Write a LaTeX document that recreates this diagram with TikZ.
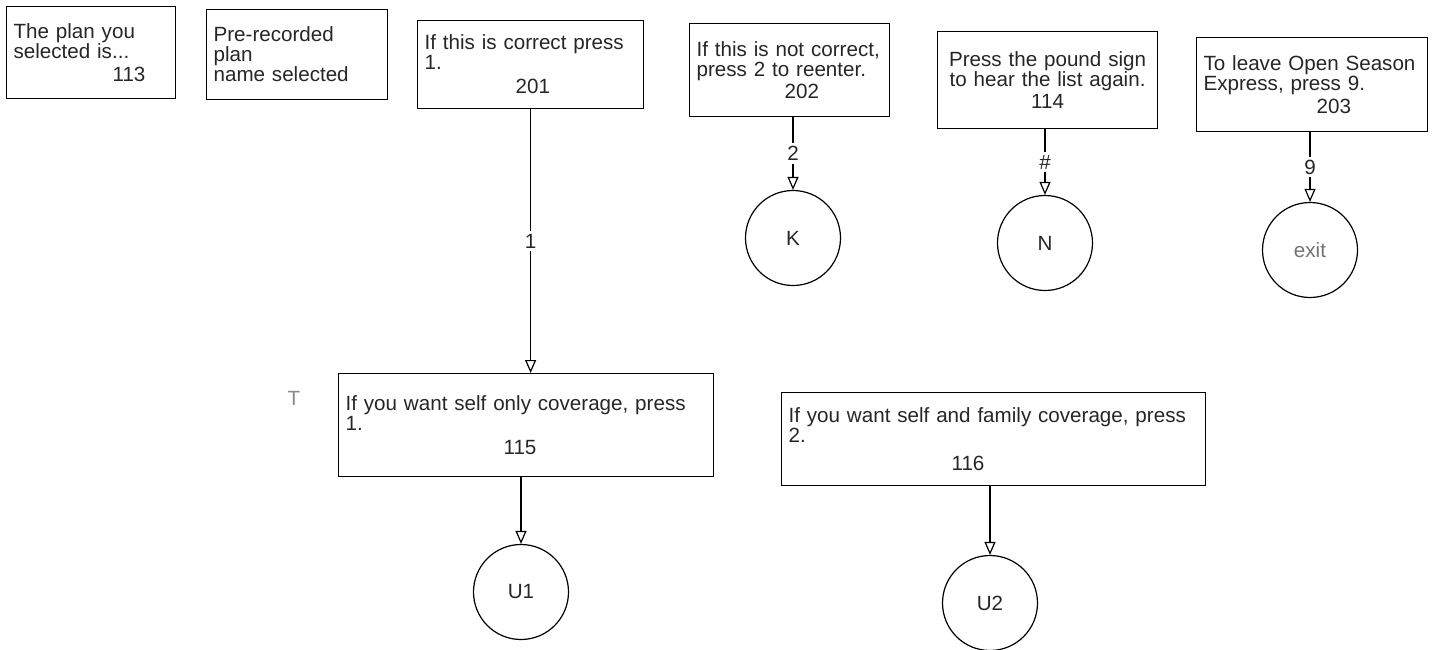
\documentclass[tikz,border=0pt]{standalone}
\usepackage{fontspec}
\setmainfont{Liberation Sans}
\usetikzlibrary{arrows.meta}
\usetikzlibrary{positioning}

\begin{document}
\begin{tikzpicture}[x=0.5pt, y=-0.5pt,
        every node/.style={font=\fontsize{10.3}{10}\selectfont, text=black!85},
        prompt/.style={draw, line width=0.6pt, anchor=north west, align=left, inner xsep=3.5pt, inner ysep=2pt},
        state/.style={draw, circle, line width=0.6pt, minimum size=47.5pt, inner sep=0pt},
        flow/.style={line width=0.6pt, -{Triangle[open, width=5.5pt, length=6.5pt]}},
        key/.style={fill=white, inner sep=1.5pt}]
        \useasboundingbox (0,0) rectangle (1434,649);
        % Prompts, first row
        \node[prompt, text width=77.5pt, minimum height=46pt] (p113) at (6,6) {The plan you\\selected is...\\[1.5pt]\hspace*{49.5pt}113};
        \node[prompt, text width=83.5pt, minimum height=45pt] (pname) at (206,9) {Pre-recorded\\plan\\name selected};
        \node[prompt, text width=106pt, minimum height=44pt] (p201) at (417,20) {If this is correct press\\1.\\[2pt]\hspace*{45.5pt}201};
        \node[prompt, text width=93pt, minimum height=46.5pt] (p202) at (689,23) {If this is not correct,\\press 2 to reenter.\\[1pt]\hspace*{44pt}202};
        \node[prompt, align=center, text width=103pt, minimum height=48.5pt] (p114) at (937,31) {Press the pound sign\\to hear the list again.\\[1pt]114};
        \node[prompt, text width=108.5pt, minimum height=47pt] (p203) at (1196,37) {To leave Open Season\\Express, press 9.\\[1.5pt]\hspace*{56.5pt}203};
        % Prompts, coverage
        \node[prompt, text width=180.5pt, minimum height=51.5pt] (p115) at (338,373) {If you want self only coverage, press\\1.\\[2pt]\hspace*{79pt}115};
        \node[prompt, text width=205pt, minimum height=46.5pt] (p116) at (781,392) {If you want self and family coverage, press\\2.\\[4pt]\hspace*{81.5pt}116};
        \node[text=black!45] (tmark) at (294,398) {T};
        % Targets
        \node[state] (k) at (793,238) {K};
        \node[state] (n) at (1045,243) {N};
        \node[state, text=black!55] (ex) at (1310,250) {exit};
        \node[state] (u1) at (521,592) {U1};
        \node[state] (u2) at (990,603) {U2};
        % Key presses
        \draw[flow] (p201.south) -- node[key] {1} (p201.south |- p115.north);
        \foreach \src/\dst/\digit in {p202/k/2, p114/n/\#, p203/ex/9}
            \draw[flow] (\src.south -| \dst) -- node[key] {\digit} (\dst);
        \draw[flow] (p115.south -| u1) -- (u1);
        \draw[flow] (p116.south -| u2) -- (u2);
\end{tikzpicture}
\end{document}
